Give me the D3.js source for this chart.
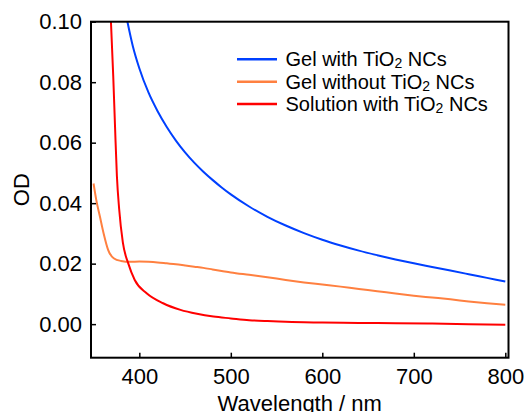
<!DOCTYPE html>
<html>
<head>
<meta charset="utf-8">
<script src="https://cdn.jsdelivr.net/npm/d3@7/dist/d3.min.js"></script>
<style>
  html, body { margin: 0; padding: 0; background: #fff; }
  svg { display: block; font-family: "Liberation Sans", Arial, sans-serif; }
</style>
</head>
<body>
<svg id="chart" width="524" height="412"></svg>
<script>
// Absorbance spectra (OD vs wavelength in nm)
const gelWithWl = [387, 393, 400, 410, 420, 430, 440, 450, 460, 470, 480, 490, 500,
  520, 540, 560, 580, 600, 620, 640, 660, 680, 700, 720, 740, 760, 780, 800];
const gelWithOD = [0.1000, 0.0918, 0.0846, 0.0766, 0.0704, 0.0652, 0.0607, 0.0568, 0.0534, 0.0504, 0.0477, 0.0452, 0.0429,
  0.0389, 0.0355, 0.0326, 0.0301, 0.0279, 0.0260, 0.0243, 0.0228, 0.0214, 0.0201, 0.0189, 0.0177, 0.0165, 0.0153, 0.0141];

const gelWithoutWl = [350, 353, 357, 361, 366, 372, 380, 390, 400, 410, 420, 430, 440, 450, 460, 470, 480, 490, 500,
  520, 540, 560, 580, 600, 620, 640, 660, 680, 700, 720, 740, 760, 780, 800];
const gelWithoutOD = [0.0465, 0.041, 0.0355, 0.030, 0.0245, 0.0218, 0.0209, 0.0206, 0.0207, 0.0206, 0.0204, 0.0201, 0.0198, 0.0194, 0.0190, 0.0186, 0.0181, 0.0176, 0.0171,
  0.0163, 0.0155, 0.0146, 0.0138, 0.0131, 0.0124, 0.0116, 0.0109, 0.0101, 0.0094, 0.0088, 0.0082, 0.0075, 0.0069, 0.0064];

const solutionWl = [369, 371.5, 373.5, 375.5, 378, 382, 388, 395, 408, 426, 445, 463, 481, 500,
  520, 540, 560, 580, 600, 640, 680, 720, 760, 800];
const solutionOD = [0.100, 0.082, 0.065, 0.049, 0.038, 0.027, 0.020, 0.0146, 0.0102, 0.0069, 0.0047, 0.0034, 0.0025, 0.0019,
  0.0013, 0.0010, 0.0008, 0.0006, 0.0005, 0.0004, 0.0003, 0.0002, 0.0000, -0.0002];

const seriesNames = ["Gel with TiO|2| NCs", "Gel without TiO|2| NCs", "Solution with TiO|2| NCs"];
const seriesColors = ["#0040ff", "#ff8040", "#ff0000"];
const xTicks = [400, 500, 600, 700, 800];
const yTicks = [0.00, 0.02, 0.04, 0.06, 0.08, 0.10];

const series = [
  { name: seriesNames[0], color: seriesColors[0], pts: gelWithWl.map((w, i) => [w, gelWithOD[i]]) },
  { name: seriesNames[1], color: seriesColors[1], pts: gelWithoutWl.map((w, i) => [w, gelWithoutOD[i]]) },
  { name: seriesNames[2], color: seriesColors[2], pts: solutionWl.map((w, i) => [w, solutionOD[i]]) }
];

const svg = d3.select("#chart");
const L = 91, R = 508.5, T = 21.7, B = 357.7;

const x = d3.scaleLinear().domain([347.2, 803.5]).range([L, R]);
const y = d3.scaleLinear().domain([-0.0111, 0.100]).range([B, T]);

svg.append("defs").append("clipPath").attr("id", "plotClip")
  .append("rect").attr("x", L).attr("y", T).attr("width", R - L).attr("height", B - T);

// curves
const line = d3.line().x(d => x(d[0])).y(d => y(d[1])).curve(d3.curveMonotoneX);
const g = svg.append("g").attr("clip-path", "url(#plotClip)");
series.forEach(s => {
  g.append("path").datum(s.pts)
    .attr("d", line)
    .attr("fill", "none")
    .attr("stroke", s.color)
    .attr("stroke-width", 2);
});

// axes with inward ticks
const xAxis = d3.axisBottom(x).tickValues(xTicks).tickSizeInner(-5).tickSizeOuter(0).tickPadding(11).tickFormat(d3.format("d"));
const yAxis = d3.axisLeft(y).tickValues(yTicks).tickSizeInner(-5).tickSizeOuter(0).tickPadding(9).tickFormat(d3.format(".2f"));

const gx = svg.append("g").attr("transform", `translate(0,${B})`).call(xAxis);
const gy = svg.append("g").attr("transform", `translate(${L},0)`).call(yAxis);
[gx, gy].forEach(a => {
  a.select(".domain").remove();
  a.selectAll(".tick line").attr("stroke", "#000").attr("stroke-width", 1.5);
  a.selectAll(".tick text").attr("fill", "#000").style("font-size", "22px")
    .style("font-family", "'Liberation Sans', Arial, sans-serif");
});

// frame
svg.append("rect").attr("x", L).attr("y", T).attr("width", R - L).attr("height", B - T)
  .attr("fill", "none").attr("stroke", "#000").attr("stroke-width", 2);

// axis titles
svg.append("text").attr("x", (L + R) / 2).attr("y", 411)
  .attr("text-anchor", "middle").style("font-size", "22px").text("Wavelength / nm");
svg.append("text").attr("transform", `translate(29,${(T + B) / 2})  rotate(-90)`)
  .attr("text-anchor", "middle").style("font-size", "22px").text("OD");

// legend
const legend = svg.append("g");
series.forEach((s, i) => {
  const yy = 59.3 + i * 22.4;
  legend.append("line").attr("x1", 237).attr("x2", 277).attr("y1", yy).attr("y2", yy)
    .attr("stroke", s.color).attr("stroke-width", 2.5);
  const t = legend.append("text").attr("x", 285.5).attr("y", yy + 7).style("font-size", "20px");
  const parts = s.name.split("|");
  t.append("tspan").text(parts[0]);
  t.append("tspan").text(parts[1]).style("font-size", "14px").attr("dy", 2);
  t.append("tspan").text(parts[2]).attr("dy", -2);
});
</script>
</body>
</html>
